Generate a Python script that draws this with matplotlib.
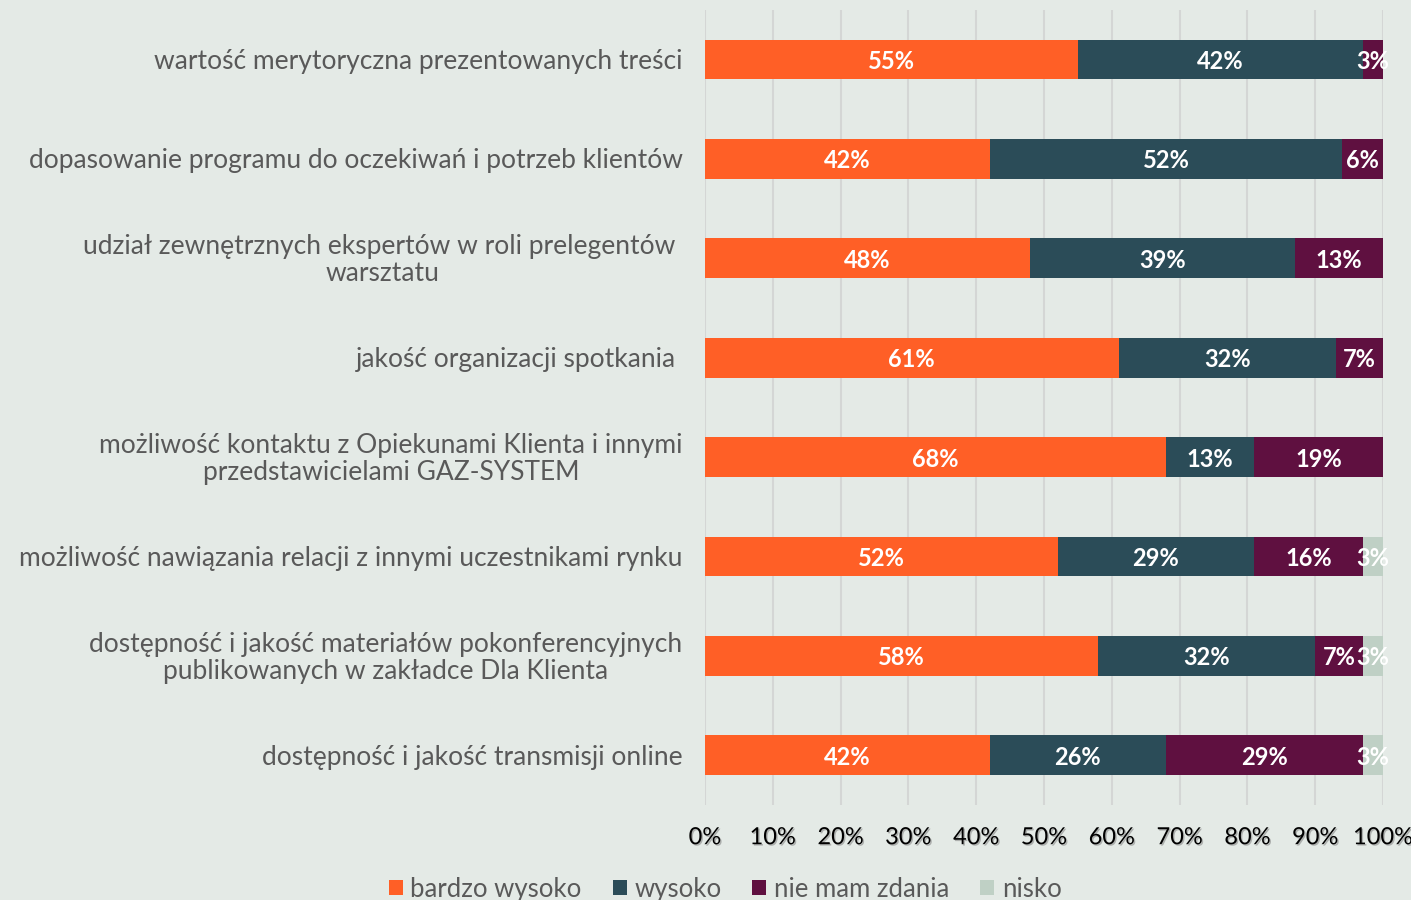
import matplotlib
matplotlib.use("Agg")
import matplotlib.pyplot as plt
import matplotlib.patheffects as pe
import numpy as np

# categories (top to bottom) and shares per answer
categories = [
    "wartość merytoryczna prezentowanych treści",
    "dopasowanie programu do oczekiwań i potrzeb klientów",
    "udział zewnętrznych ekspertów w roli prelegentów \nwarsztatu",
    "jakość organizacji spotkania ",
    "możliwość kontaktu z Opiekunami Klienta i innymi\nprzedstawicielami GAZ-SYSTEM",
    "możliwość nawiązania relacji z innymi uczestnikami rynku",
    "dostępność i jakość materiałów pokonferencyjnych\npublikowanych w zakładce Dla Klienta",
    "dostępność i jakość transmisji online",
]
bardzo_wysoko = [55, 42, 48, 61, 68, 52, 58, 42]
wysoko = [42, 52, 39, 32, 13, 29, 32, 26]
nie_mam_zdania = [3, 6, 13, 7, 19, 16, 7, 29]
nisko = [0, 0, 0, 0, 0, 3, 3, 3]

series = [
    ("bardzo wysoko", bardzo_wysoko, "#FF5F26"),
    ("wysoko", wysoko, "#2B4C58"),
    ("nie mam zdania", nie_mam_zdania, "#5F1040"),
    ("nisko", nisko, "#BFD0C5"),
]
x_ticks = [0, 10, 20, 30, 40, 50, 60, 70, 80, 90, 100]

bg = "#E4EAE6"
plt.rcParams["font.family"] = ["Lato", "DejaVu Sans"]

fig = plt.figure(figsize=(14.11, 9.0), dpi=100, facecolor=bg)
ax = fig.add_axes([0.4996, 0.1056, 0.4806, 0.8834], facecolor=bg)

y = np.arange(len(categories))
left = np.zeros(len(categories))
for name, vals, col in series:
    vals = np.array(vals, dtype=float)
    ax.barh(y, vals, left=left, height=0.4, color=col, label=name, zorder=3)
    for yi, (l, v) in enumerate(zip(left, vals)):
        if v > 0:
            ax.text(l + v / 2, yi + 0.02, f"{int(v)}%", ha="center", va="center",
                    color="white", fontsize=17, fontweight="bold", zorder=4)
    left += vals

ax.set_ylim(len(categories) - 0.5, -0.5)
ax.set_xlim(0, 100)
ax.set_xticks(x_ticks)
ax.set_xticklabels([f"{t}%" for t in x_ticks], fontsize=17, color="black")
for lbl in ax.get_xticklabels():
    lbl.set_path_effects([pe.withSimplePatchShadow(offset=(1, -1), shadow_rgbFace="#888888", alpha=0.6)])
ax.tick_params(axis="x", length=0, pad=16)
ax.set_yticks([])
ax.grid(axis="x", color="#D4D6D5", linewidth=1.5, zorder=0)
for s in ax.spines.values():
    s.set_visible(False)

for yi, cat in enumerate(categories):
    ax.text(-3.3, yi + 0.02, cat, ha="right", va="center", multialignment="center",
            fontsize=19, color="#595959", linespacing=1.1,
            transform=ax.transData)

leg = fig.legend(loc="center", bbox_to_anchor=(0.514, 0.012), ncol=4, frameon=False,
                 fontsize=18.5, handlelength=0.55, handleheight=0.55, handletextpad=0.3,
                 columnspacing=1.2)
for t in leg.get_texts():
    t.set_color("#595959")

fig.savefig("out.png", dpi=100, facecolor=bg)
